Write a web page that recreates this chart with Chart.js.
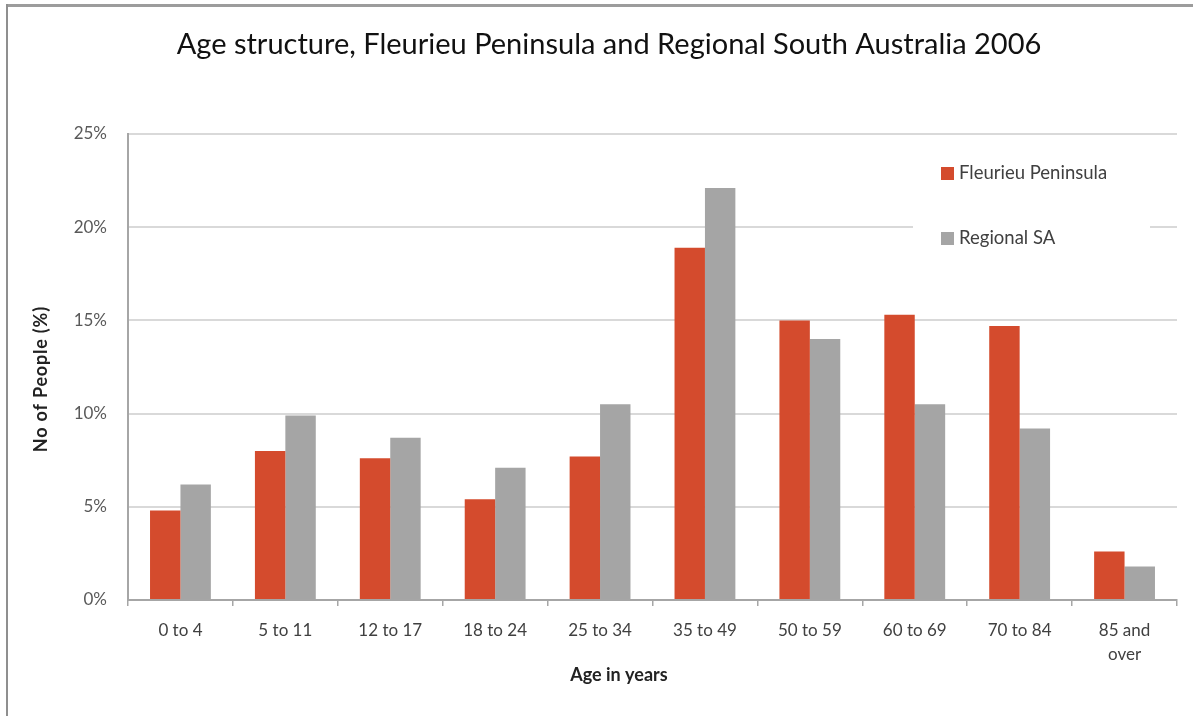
<!DOCTYPE html>
<html>
<head>
<meta charset="utf-8">
<script src="https://cdn.jsdelivr.net/npm/chart.js@4/dist/chart.umd.min.js"></script>
<style>
  html, body { margin: 0; padding: 0; background: #fff; }
  #wrap { position: relative; width: 1193px; height: 716px; overflow: hidden; }
  #frameTop { position: absolute; left: 6px; top: 4px; width: 1187px; height: 0; border-top: 3px solid #9c9c9c; }
  #frameLeft { position: absolute; left: 6px; top: 4px; width: 0; height: 712px; border-left: 2px solid #8f8f8f; }
  canvas { position: absolute; left: 0; top: 0; }
</style>
</head>
<body>
<div id="wrap">
  <canvas id="c" width="1193" height="716"></canvas>
  <div id="frameTop"></div>
  <div id="frameLeft"></div>
</div>
<script>
// ---- data ----
const categories = ['0 to 4', '5 to 11', '12 to 17', '18 to 24', '25 to 34', '35 to 49', '50 to 59', '60 to 69', '70 to 84', ['85 and', 'over']];
const fleurieu = [4.8, 8.0, 7.6, 5.4, 7.7, 18.9, 15.0, 15.3, 14.7, 2.6];
const regionalSA = [6.2, 9.9, 8.7, 7.1, 10.5, 22.1, 14.0, 10.5, 9.2, 1.8];
const seriesNames = ['Fleurieu Peninsula', 'Regional SA'];
const yTicks = [0, 5, 10, 15, 20, 25];
const titleText = 'Age structure, Fleurieu Peninsula and Regional South Australia 2006';
const xTitle = 'Age in years';
const yTitle = 'No of People (%)';

const RED = '#D44B2D';
const GRAY = '#A5A5A5';
const FONT = 'Lato, "Open Sans", sans-serif';

const textPlugin = {
  id: 'texts',
  afterDraw(chart) {
    const ctx = chart.ctx;
    const a = chart.chartArea;
    ctx.save();
    // title
    ctx.fillStyle = '#111';
    ctx.font = '29px ' + FONT;
    ctx.textAlign = 'center';
    ctx.textBaseline = 'middle';
    ctx.fillText(titleText, 609, 45);
    // x axis title
    ctx.font = 'bold 18px ' + FONT;
    ctx.fillStyle = '#222';
    ctx.fillText(xTitle, a.left + (a.right - a.left) * 0.468, 675);
    // y axis title
    ctx.save();
    ctx.translate(41, a.top + (a.bottom - a.top) * 0.526);
    ctx.rotate(-Math.PI / 2);
    ctx.font = 'bold 18px ' + FONT;
    try { ctx.letterSpacing = '0.8px'; } catch (e) {}
    ctx.fillText(yTitle, 0, 0);
    ctx.restore();
    // legend box (inside plot)
    const lx = a.right - 264, ly = a.top + 10;
    ctx.fillStyle = '#fff';
    ctx.fillRect(lx, ly, 237, 122);
    const items = chart.data.datasets;
    ctx.font = '18.5px ' + FONT;
    ctx.textAlign = 'left';
    ctx.textBaseline = 'middle';
    items.forEach((ds, i) => {
      const y = ly + 29 + i * 65;
      ctx.fillStyle = ds.backgroundColor;
      ctx.fillRect(lx + 28, y - 6, 13, 13);
      ctx.fillStyle = '#404040';
      ctx.fillText(ds.label, lx + 46, y);
    });
    ctx.restore();
  }
};

new Chart(document.getElementById('c'), {
  type: 'bar',
  data: {
    labels: categories,
    datasets: [
      { label: seriesNames[0], data: fleurieu, backgroundColor: RED, borderWidth: 0 },
      { label: seriesNames[1], data: regionalSA, backgroundColor: GRAY, borderWidth: 0 }
    ]
  },
  options: {
    responsive: false,
    animation: false,
    devicePixelRatio: 1,
    layout: { padding: { left: 0, right: 16, top: 134, bottom: 0 } },
    plugins: {
      legend: { display: false },
      title: { display: false },
      tooltip: { enabled: false }
    },
    datasets: { bar: { categoryPercentage: 0.58, barPercentage: 1.0 } },
    scales: {
      x: {
        afterFit(s) { s.height = 116; },
        grid: { drawOnChartArea: false, offset: true, tickLength: 6, color: '#A6A6A6', lineWidth: 1.5 },
        border: { color: '#A6A6A6', width: 2 },
        ticks: { color: '#404040', font: { family: FONT, size: 17, lineHeight: 1.4 }, padding: 13, maxRotation: 0, autoSkip: false }
      },
      y: {
        min: 0, max: 25,
        afterFit(s) { s.width = 128; },
        afterBuildTicks(s) { s.ticks = yTicks.map(v => ({ value: v })); },
        grid: { color: '#D9D9D9', lineWidth: 2, drawTicks: false },
        border: { color: '#A6A6A6', width: 2 },
        ticks: { color: '#595959', font: { family: FONT, size: 17 }, padding: 21, callback: v => v + '%' },
        title: { display: false }
      }
    }
  },
  plugins: [textPlugin]
});
</script>
</body>
</html>
